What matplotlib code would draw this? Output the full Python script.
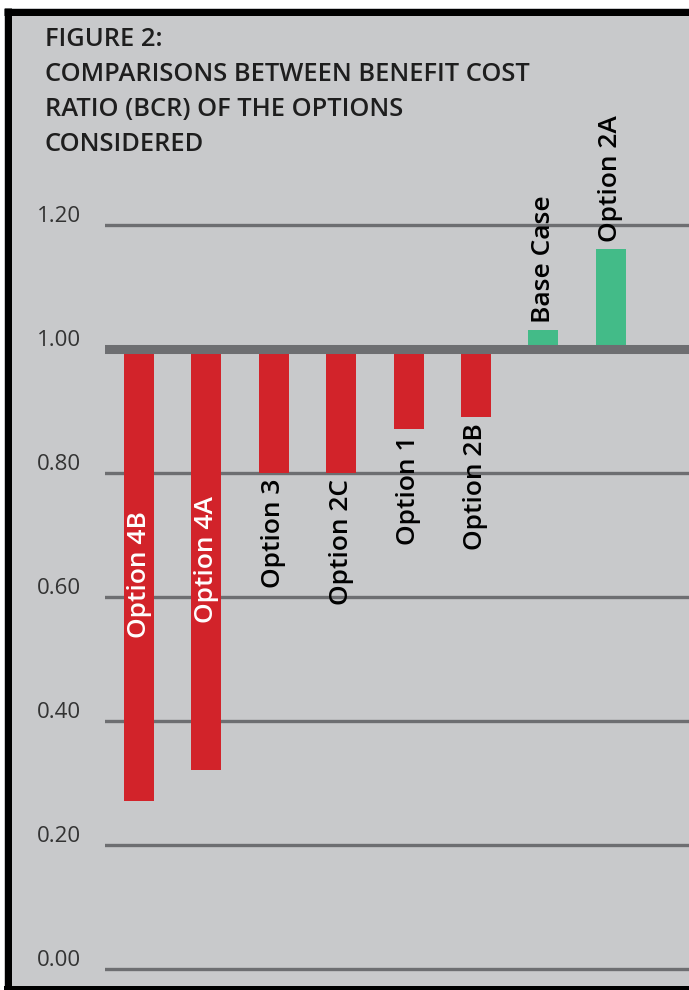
import matplotlib
matplotlib.use('Agg')
import matplotlib.pyplot as plt
from matplotlib.lines import Line2D
from matplotlib.patches import Rectangle

plt.rcParams['font.family'] = ['Open Sans', 'DejaVu Sans']

# ---- data ----
categories = ['Option 4B', 'Option 4A', 'Option 3', 'Option 2C',
              'Option 1', 'Option 2B', 'Base Case', 'Option 2A']
bcr = [0.27, 0.32, 0.80, 0.80, 0.87, 0.89, 1.03, 1.16]
yticks = [0.0, 0.2, 0.4, 0.6, 0.8, 1.0, 1.2]
ytick_labels = ['0.00', '0.20', '0.40', '0.60', '0.80', '1.00', '1.20']
title = ('FIGURE 2:\nCOMPARISONS BETWEEN BENEFIT COST\n'
         'RATIO (BCR) OF THE OPTIONS\nCONSIDERED')
baseline = 1.0

# ---- styling ----
W, H = 689, 990
BG = '#C8C9CB'
RED = '#D2232A'
GREEN = '#43BB88'
GRID = '#6D6E71'

fig = plt.figure(figsize=(W / 100, H / 100), dpi=100)
fig.patch.set_facecolor('white')

# gray panel and black frame
fig.add_artist(Rectangle((4 / W, 0), 1 - 4 / W, (H - 8) / H,
                         transform=fig.transFigure, facecolor=BG,
                         edgecolor='none', zorder=0))
fig.add_artist(Line2D([4 / W, 1], [(H - 11.5) / H] * 2, transform=fig.transFigure,
                      color='black', lw=7 * 0.72, solid_capstyle='butt', zorder=5))
fig.add_artist(Line2D([7.5 / W] * 2, [0, (H - 8) / H], transform=fig.transFigure,
                      color='black', lw=7 * 0.72, solid_capstyle='butt', zorder=5))
fig.add_artist(Line2D([4 / W, 1], [2 / H] * 2, transform=fig.transFigure,
                      color='black', lw=4 * 0.72, solid_capstyle='butt', zorder=5))

# axes
ax_left = 105
ax = fig.add_axes([ax_left / W, 0, 1 - ax_left / W, 1])
ax.patch.set_alpha(0)
for s in ax.spines.values():
    s.set_visible(False)
ppu = 620.0          # pixels per unit (y)
y0_px = 21.4         # pixel height of 0.00 above bottom
ax.set_ylim(-y0_px / ppu, (H - y0_px) / ppu)
px_per_cat = 67.4
first_px = 34
ax.set_xlim(-first_px / px_per_cat, -first_px / px_per_cat + (W - ax_left) / px_per_cat)
ax.set_xticks([])
ax.set_yticks([])

# gridlines
for t in yticks:
    if t != baseline:
        ax.axhline(t, color=GRID, lw=2.4, zorder=1)
ax.axhline(baseline, color=GRID, lw=6.5, zorder=3)

# tick labels
for t, lab in zip(yticks, ytick_labels):
    ax.annotate(lab, xy=(0, t), xycoords=('axes fraction', 'data'),
                xytext=(-24, 8), textcoords='offset pixels',
                ha='right', va='center', fontsize=16, color='#333333',
                annotation_clip=False)

# bars
x = list(range(len(categories)))
colors = [RED if v < baseline else GREEN for v in bcr]
ax.bar(x, [v - baseline for v in bcr], bottom=baseline, width=0.445,
       color=colors, zorder=2)

# bar labels
lab_kw = dict(rotation=90, fontsize=19, fontweight='semibold', ha='center',
              annotation_clip=False, zorder=4)
for i, (c, v) in enumerate(zip(categories, bcr)):
    if v >= baseline:
        ax.annotate(c, xy=(i, v), xytext=(0, 7), textcoords='offset pixels',
                    va='bottom', color='black', **lab_kw)
    elif baseline - v > 0.5:
        ax.annotate(c, xy=(i, (baseline + v) / 2), va='center', color='white',
                    **lab_kw)
    else:
        ax.annotate(c, xy=(i, v), xytext=(0, -6), textcoords='offset pixels',
                    va='top', color='black', **lab_kw)

# title
fig.text(45 / W, 1 - 27 / H, title, ha='left', va='top', fontsize=18.4,
         fontweight='semibold', color='#1E1E1E', linespacing=1.52)

fig.savefig('out.png', dpi=100, facecolor=fig.get_facecolor())
